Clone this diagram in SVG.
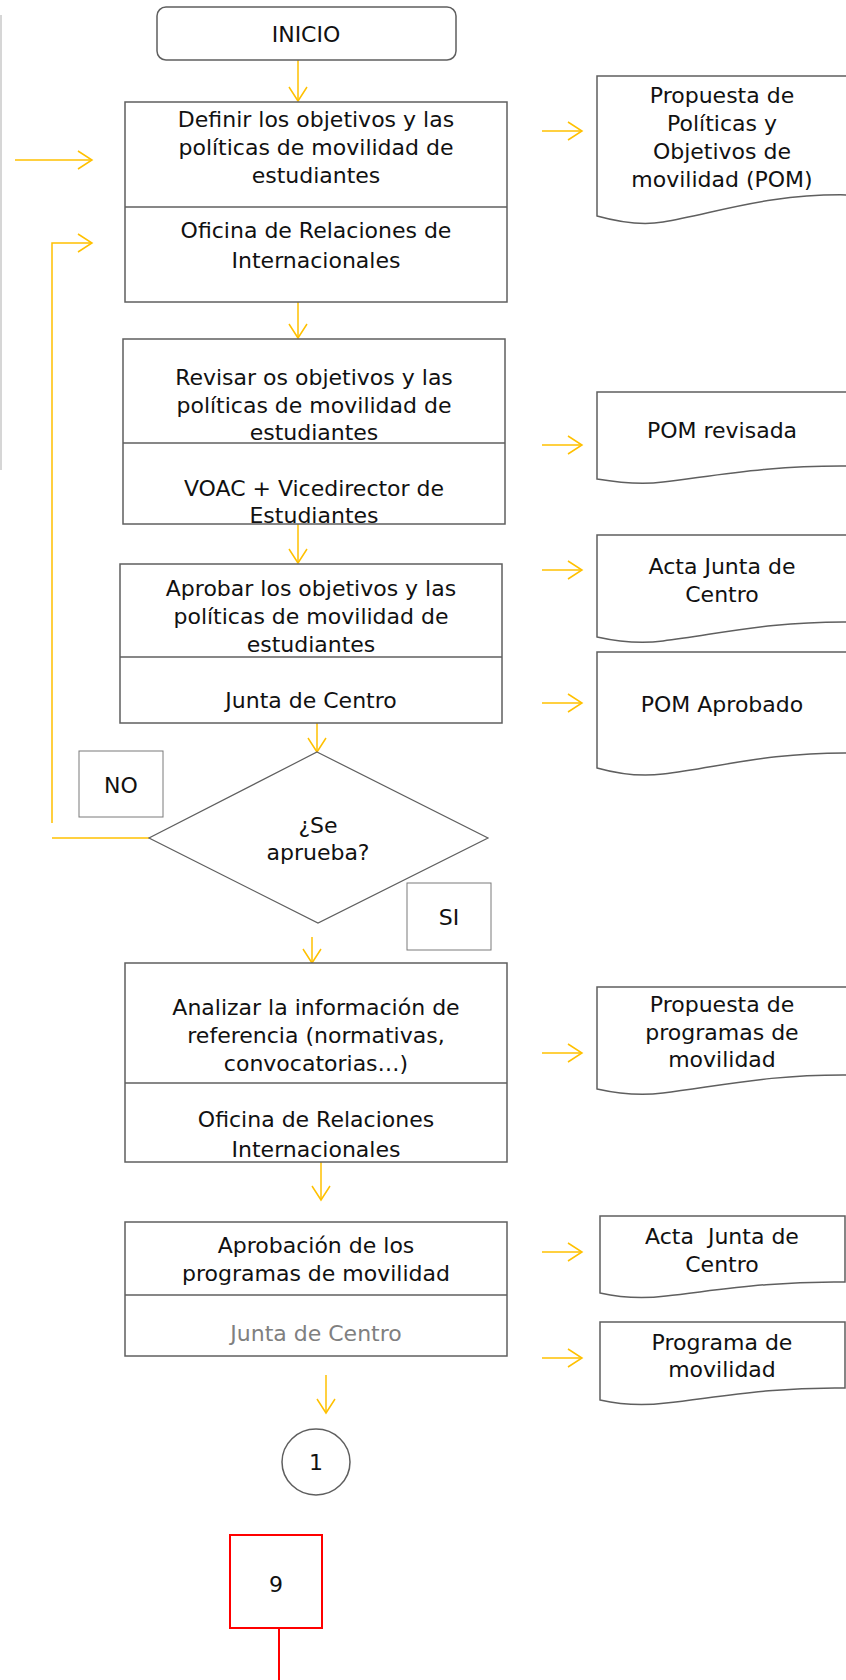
<svg xmlns="http://www.w3.org/2000/svg" width="846" height="1680" viewBox="0 0 846 1680">
<style>
.box{fill:#fff;stroke:#5f5f5f;stroke-width:1.5}
.doc{fill:#fff;stroke:#5f5f5f;stroke-width:1.5}
.t{font-family:"DejaVu Sans",sans-serif;font-size:22px;fill:#111;text-anchor:middle}
.g{fill:#808080}
.c{fill:none;stroke:#FFC000;stroke-width:1.5}
.lab{fill:#fff;stroke:#7a7a7a;stroke-width:1}
</style>
<defs>
<marker id="ah" markerUnits="userSpaceOnUse" markerWidth="20" markerHeight="22" viewBox="-16 -11 18 22" refX="0" refY="0" orient="auto">
<path d="M-14,-9 L0,0 L-14,9" fill="none" stroke="#FFC000" stroke-width="1.5"/>
</marker>
</defs>
<line x1="1" y1="15" x2="1" y2="470" stroke="#c8c8c8" stroke-width="1.5"/>
<g id="connectors">
<line class="c" x1="298" y1="60" x2="298" y2="101" marker-end="url(#ah)"/>
<line class="c" x1="15" y1="160" x2="92" y2="160" marker-end="url(#ah)"/>
<polyline class="c" points="52,823 52,243 92,243" marker-end="url(#ah)"/>
<line class="c" x1="52" y1="838" x2="149" y2="838"/>
<line class="c" x1="298" y1="302" x2="298" y2="338" marker-end="url(#ah)"/>
<line class="c" x1="298" y1="524" x2="298" y2="563" marker-end="url(#ah)"/>
<line class="c" x1="317" y1="723" x2="317" y2="752" marker-end="url(#ah)"/>
<line class="c" x1="312" y1="937" x2="312" y2="963" marker-end="url(#ah)"/>
<line class="c" x1="321" y1="1162" x2="321" y2="1200" marker-end="url(#ah)"/>
<line class="c" x1="326" y1="1375" x2="326" y2="1413" marker-end="url(#ah)"/>
<line class="c" x1="542" y1="131" x2="582" y2="131" marker-end="url(#ah)"/>
<line class="c" x1="542" y1="445" x2="582" y2="445" marker-end="url(#ah)"/>
<line class="c" x1="542" y1="570" x2="582" y2="570" marker-end="url(#ah)"/>
<line class="c" x1="542" y1="703" x2="582" y2="703" marker-end="url(#ah)"/>
<line class="c" x1="542" y1="1053" x2="582" y2="1053" marker-end="url(#ah)"/>
<line class="c" x1="542" y1="1252" x2="582" y2="1252" marker-end="url(#ah)"/>
<line class="c" x1="542" y1="1358" x2="582" y2="1358" marker-end="url(#ah)"/>
</g>
<g id="inicio">
<rect class="box" x="157" y="7" width="299" height="53" rx="9"/>
<text class="t" x="306" y="42">INICIO</text>
</g>
<g id="definir">
<rect class="box" x="125" y="102" width="382" height="200"/>
<line class="box" x1="125" y1="207" x2="507" y2="207"/>
<text class="t" x="316" y="127">Definir los objetivos y las</text>
<text class="t" x="316" y="155">políticas de movilidad de</text>
<text class="t" x="316" y="183">estudiantes</text>
<text class="t" x="316" y="238">Oficina de Relaciones de</text>
<text class="t" x="316" y="268">Internacionales</text>
</g>
<g id="revisar">
<rect class="box" x="123" y="339" width="382" height="185"/>
<line class="box" x1="123" y1="443" x2="505" y2="443"/>
<text class="t" x="314" y="385">Revisar os objetivos y las</text>
<text class="t" x="314" y="413">políticas de movilidad de</text>
<text class="t" x="314" y="440">estudiantes</text>
<text class="t" x="314" y="496">VOAC + Vicedirector de</text>
<text class="t" x="314" y="523">Estudiantes</text>
</g>
<g id="aprobar">
<rect class="box" x="120" y="564" width="382" height="159"/>
<line class="box" x1="120" y1="657" x2="502" y2="657"/>
<text class="t" x="311" y="596">Aprobar los objetivos y las</text>
<text class="t" x="311" y="624">políticas de movilidad de</text>
<text class="t" x="311" y="652">estudiantes</text>
<text class="t" x="311" y="708">Junta de Centro</text>
</g>
<g id="decision">
<polygon class="box" points="317,752 488,838 318,923 149,838" style="stroke-width:1.2"/>
<text class="t" x="318" y="833">¿Se</text>
<text class="t" x="318" y="860">aprueba?</text>
</g>
<g id="no">
<rect class="lab" x="79" y="751" width="84" height="66"/>
<text class="t" x="121" y="793">NO</text>
</g>
<g id="si">
<rect class="lab" x="407" y="883" width="84" height="67"/>
<text class="t" x="449" y="925">SI</text>
</g>
<g id="analizar">
<rect class="box" x="125" y="963" width="382" height="199"/>
<line class="box" x1="125" y1="1083" x2="507" y2="1083"/>
<text class="t" x="316" y="1015">Analizar la información de</text>
<text class="t" x="316" y="1043">referencia (normativas,</text>
<text class="t" x="316" y="1071">convocatorias…)</text>
<text class="t" x="316" y="1127">Oficina de Relaciones</text>
<text class="t" x="316" y="1157">Internacionales</text>
</g>
<g id="aprobacion">
<rect class="box" x="125" y="1222" width="382" height="134"/>
<line class="box" x1="125" y1="1295" x2="507" y2="1295"/>
<text class="t" x="316" y="1253">Aprobación de los</text>
<text class="t" x="316" y="1281">programas de movilidad</text>
<text class="t g" x="316" y="1341">Junta de Centro</text>
</g>
<g id="conector1">
<ellipse class="box" cx="316" cy="1462" rx="34" ry="33"/>
<text class="t" x="316" y="1470">1</text>
</g>
<g id="pagina9">
<rect x="230" y="1535" width="92" height="93" fill="#fff" stroke="#FF0000" stroke-width="2"/>
<line x1="279" y1="1628" x2="279" y2="1680" stroke="#FF0000" stroke-width="2"/>
<text class="t" x="276" y="1592">9</text>
</g>
<g id="doc-pom">
<path class="doc" d="M597,76 H852 V195 C770,193 720,212 663,222 C640,226 615,221 597,216 Z"/>
<text class="t" x="722" y="103">Propuesta de</text>
<text class="t" x="722" y="131">Políticas y</text>
<text class="t" x="722" y="159">Objetivos de</text>
<text class="t" x="722" y="187">movilidad (POM)</text>
</g>
<g id="doc-pom-revisada">
<path class="doc" d="M597,392 H852 V466 C770,465 720,475 663,482 C640,485 615,482 597,479 Z"/>
<text class="t" x="722" y="438">POM revisada</text>
</g>
<g id="doc-acta1">
<path class="doc" d="M597,535 H852 V622 C770,621 720,634 663,641 C640,644 615,641 597,637 Z"/>
<text class="t" x="722" y="574">Acta Junta de</text>
<text class="t" x="722" y="602">Centro</text>
</g>
<g id="doc-pom-aprobado">
<path class="doc" d="M597,652 H852 V753 C770,752 720,767 663,774 C640,777 615,773 597,768 Z"/>
<text class="t" x="722" y="712">POM Aprobado</text>
</g>
<g id="doc-propuesta-programas">
<path class="doc" d="M597,987 H852 V1075 C770,1074 720,1086 663,1093 C640,1096 615,1093 597,1089 Z"/>
<text class="t" x="722" y="1012">Propuesta de</text>
<text class="t" x="722" y="1040">programas de</text>
<text class="t" x="722" y="1067">movilidad</text>
</g>
<g id="doc-acta2">
<path class="doc" d="M600,1216 H845 V1282 C770,1281 720,1290 666,1296 C642,1299 618,1297 600,1293 Z"/>
<text class="t" x="722" y="1244" xml:space="preserve">Acta  Junta de</text>
<text class="t" x="722" y="1272">Centro</text>
</g>
<g id="doc-programa">
<path class="doc" d="M600,1322 H845 V1388 C770,1387 720,1397 666,1403 C642,1406 618,1404 600,1400 Z"/>
<text class="t" x="722" y="1350">Programa de</text>
<text class="t" x="722" y="1377">movilidad</text>
</g>
</svg>
